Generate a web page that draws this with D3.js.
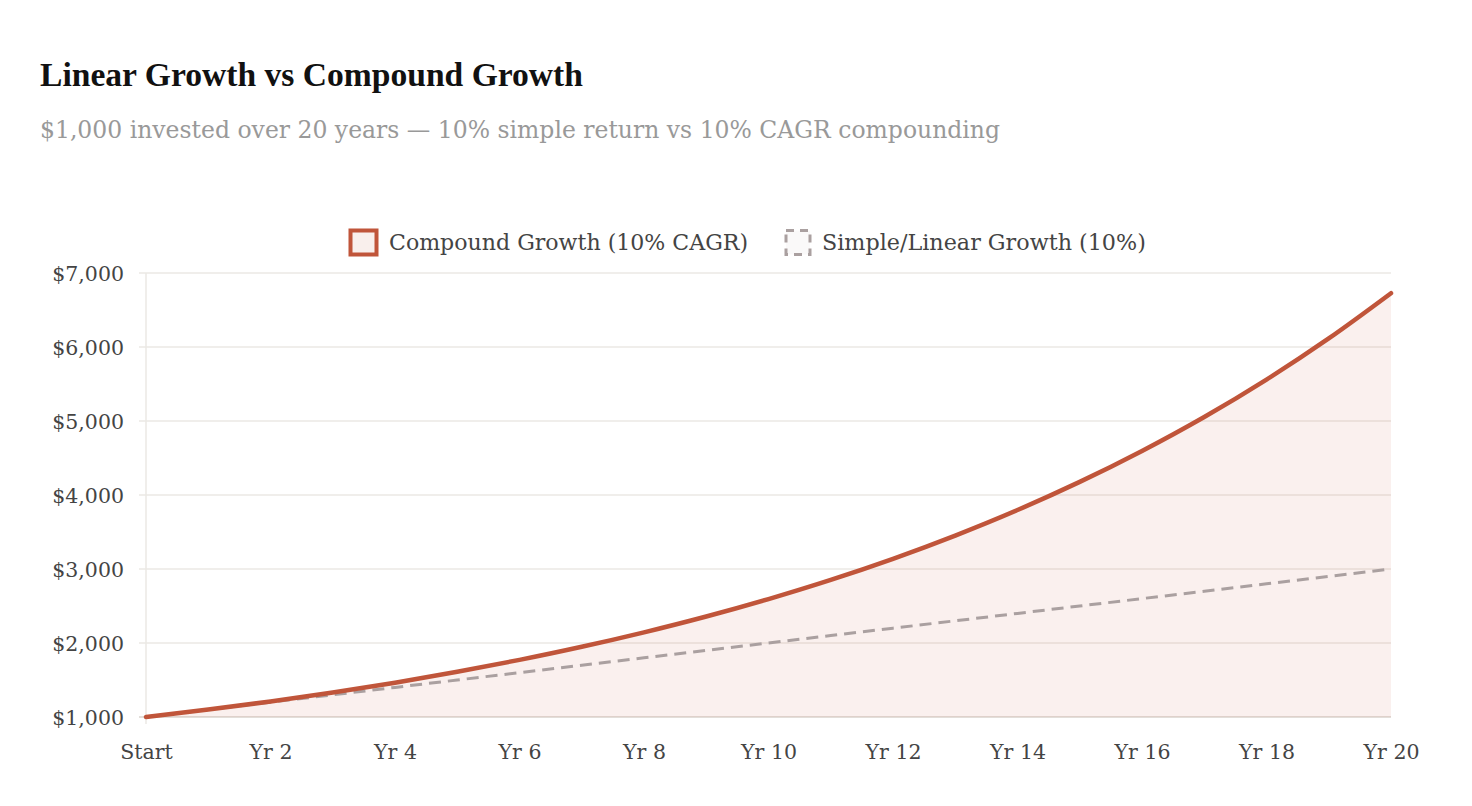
<!DOCTYPE html>
<html>
<head>
<meta charset="utf-8">
<script src="https://cdn.jsdelivr.net/npm/d3@7"></script>
<style>
  html, body { margin: 0; padding: 0; background: #fff; }
  svg { display: block; }
</style>
</head>
<body>
<svg id="chart" width="1472" height="806"></svg>
<script>
// x categories: Start, Yr 1 ... Yr 20
const years = ['Start', 'Yr 1', 'Yr 2', 'Yr 3', 'Yr 4', 'Yr 5', 'Yr 6', 'Yr 7', 'Yr 8', 'Yr 9', 'Yr 10',
  'Yr 11', 'Yr 12', 'Yr 13', 'Yr 14', 'Yr 15', 'Yr 16', 'Yr 17', 'Yr 18', 'Yr 19', 'Yr 20'];
const compoundValues = [1000, 1100, 1210, 1331, 1464, 1611, 1772, 1949, 2144, 2358, 2594,
  2853, 3138, 3452, 3797, 4177, 4595, 5054, 5560, 6116, 6727];
const linearValues = [1000, 1100, 1200, 1300, 1400, 1500, 1600, 1700, 1800, 1900, 2000,
  2100, 2200, 2300, 2400, 2500, 2600, 2700, 2800, 2900, 3000];
const yTicks = [1000, 2000, 3000, 4000, 5000, 6000, 7000];

const plot = { left: 146, right: 1391, top: 273, bottom: 717 };
const red = '#c0553a';
const grey = '#aaa0a0';
const textCol = '#444';
const titleFont = '"Liberation Serif", serif';
const bodyFont = '"DejaVu Serif", serif';

const svg = d3.select('#chart');

// shrink/grow a text's font size so it spans about `w` pixels
function fitWidth(sel, w) {
  const node = sel.node();
  const fs = parseFloat(sel.attr('font-size'));
  const len = node.getComputedTextLength();
  if (len > 0) sel.attr('font-size', (fs * w / len).toFixed(2));
  return sel;
}

svg.append('text')
  .attr('x', 40).attr('y', 86)
  .attr('font-family', titleFont)
  .attr('font-weight', 700)
  .attr('font-size', 32)
  .attr('fill', '#111')
  .text('Linear Growth vs Compound Growth')
  .call(fitWidth, 543);

svg.append('text')
  .attr('x', 40).attr('y', 138)
  .attr('font-family', bodyFont)
  .attr('font-size', 20)
  .attr('fill', '#999')
  .text('$1,000 invested over 20 years \u2014 10% simple return vs 10% CAGR compounding')
  .call(fitWidth, 960);

const x = d3.scalePoint().domain(years).range([plot.left, plot.right]);
const y = d3.scaleLinear().domain([1000, 7000]).range([plot.bottom, plot.top]);

// grid
svg.append('g')
  .selectAll('line')
  .data(yTicks)
  .join('line')
  .attr('x1', plot.left - 7).attr('x2', plot.right)
  .attr('y1', (d) => y(d)).attr('y2', (d) => y(d))
  .attr('stroke', (d) => (d === 1000 ? '#d9d3cc' : '#ebe9e4'))
  .attr('stroke-width', 1.5);

svg.append('line')
  .attr('x1', plot.left).attr('x2', plot.left)
  .attr('y1', plot.top).attr('y2', plot.bottom + 7)
  .attr('stroke', '#ebe9e4')
  .attr('stroke-width', 1.5);

// y axis labels
const yAxis = d3.axisLeft(y).tickValues(yTicks).tickSize(0).tickPadding(22)
  .tickFormat((d) => '$' + d3.format(',')(d));
svg.append('g')
  .attr('transform', `translate(${plot.left},0)`)
  .call(yAxis)
  .call((g) => g.select('.domain').remove())
  .selectAll('text')
  .attr('font-family', bodyFont)
  .attr('font-size', 20.5)
  .attr('fill', textCol)
  .attr('dy', '0.35em');

// x axis labels (every 2nd year)
const xAxis = d3.axisBottom(x).tickValues(years.filter((d, i) => i % 2 === 0)).tickSize(0).tickPadding(27);
svg.append('g')
  .attr('transform', `translate(0,${plot.bottom})`)
  .call(xAxis)
  .call((g) => g.select('.domain').remove())
  .selectAll('text')
  .attr('font-family', bodyFont)
  .attr('font-size', 20.5)
  .attr('fill', textCol);

const curve = d3.curveMonotoneX;

// compound fill
svg.append('path')
  .datum(compoundValues)
  .attr('d', d3.area().x((d, i) => x(years[i])).y0(y(1000)).y1((d) => y(d)).curve(curve))
  .attr('fill', 'rgba(192,85,58,0.085)');

// linear dashed
svg.append('path')
  .datum(linearValues)
  .attr('d', d3.line().x((d, i) => x(years[i])).y((d) => y(d)))
  .attr('fill', 'none')
  .attr('stroke', grey)
  .attr('stroke-width', 3)
  .attr('stroke-dasharray', '12 7');

// compound line
svg.append('path')
  .datum(compoundValues)
  .attr('d', d3.line().x((d, i) => x(years[i])).y((d) => y(d)).curve(curve))
  .attr('fill', 'none')
  .attr('stroke', red)
  .attr('stroke-width', 4.5)
  .attr('stroke-linecap', 'round');

// legend
const legend = svg.append('g').attr('font-family', bodyFont).attr('fill', textCol);
legend.append('rect')
  .attr('x', 350.5).attr('y', 230.5).attr('width', 26).attr('height', 24)
  .attr('fill', '#f9efec').attr('stroke', red).attr('stroke-width', 4);
legend.append('text').attr('x', 389).attr('y', 250).attr('font-size', 19)
  .text('Compound Growth (10% CAGR)')
  .call(fitWidth, 359);
legend.append('rect')
  .attr('x', 786).attr('y', 230.5).attr('width', 24).attr('height', 24)
  .attr('fill', 'rgba(170,160,160,0.06)').attr('stroke', grey).attr('stroke-width', 3)
  .attr('stroke-dasharray', '8 6');
legend.append('text').attr('x', 822).attr('y', 250).attr('font-size', 19)
  .text('Simple/Linear Growth (10%)')
  .call(fitWidth, 324);
</script>
</body>
</html>
